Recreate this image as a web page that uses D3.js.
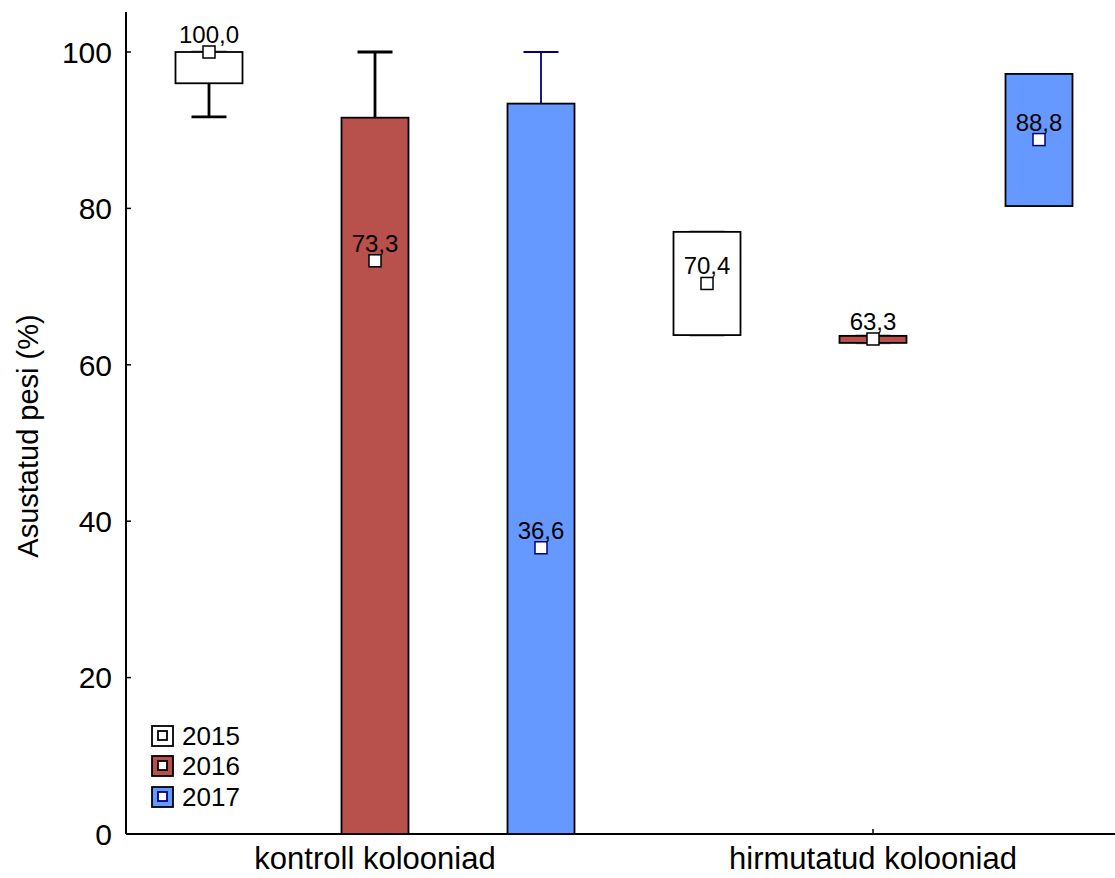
<!DOCTYPE html>
<html><head><meta charset="utf-8">
<script src="https://cdn.jsdelivr.net/npm/d3@7"></script>
<style>body{margin:0;background:#fff}text{font-family:Arial,"Liberation Sans",sans-serif}</style>
</head><body>
<svg id="c" width="1115" height="878"></svg>
<script>
const categories = ["kontroll kolooniad", "hirmutatud kolooniad"];
const years = ["2015", "2016", "2017"];
// per year, per category
const medians = [[100.0, 70.4], [73.3, 63.3], [36.6, 88.8]];
const q1 = [[96.0, 63.8], [0, 62.8], [0, 80.3]];
const q3 = [[100.0, 77.0], [91.6, 63.7], [93.4, 97.2]];
const whiskLow = [[91.7, 63.8], [0, 62.8], [0, 80.3]];
const whiskHigh = [[100.0, 77.0], [100.0, 63.7], [100.0, 97.2]];
const medianLabels = [["100,0", "70,4"], ["73,3", "63,3"], ["36,6", "88,8"]];
const yTicks = [0, 20, 40, 60, 80, 100];

const fills = ["#ffffff", "#b8504b", "#6699ff"];
const whiskColors = ["#000000", "#000000", "#000080"];
const markerStroke = ["#000000", "#000000", "#000080"];

const svg = d3.select("#c");
const x0 = 126, yBottom = 834;
const y = d3.scaleLinear().domain([0, 100]).range([834, 52]);
const x = d3.scaleBand().domain(categories).range([126, 1122]).paddingInner(0).paddingOuter(0);
const xs = d3.scaleBand().domain(years).range([-249, 249]);

// axes
svg.append("line").attr("x1", x0).attr("x2", x0).attr("y1", 12).attr("y2", yBottom).attr("stroke", "#000").attr("stroke-width", 2);
svg.append("line").attr("x1", x0).attr("x2", 1115).attr("y1", yBottom).attr("y2", yBottom).attr("stroke", "#000").attr("stroke-width", 2);
yTicks.forEach(t => {
  svg.append("line").attr("x1", x0).attr("x2", x0 + 5).attr("y1", y(t)).attr("y2", y(t)).attr("stroke", "#000").attr("stroke-width", 1.5);
  svg.append("text").attr("x", 112).attr("y", y(t)).attr("dy", "0.36em").attr("text-anchor", "end").attr("font-size", 30).text(t);
});
categories.forEach(c => {
  const cx = x(c) + x.bandwidth() / 2;
  svg.append("line").attr("x1", cx).attr("x2", cx).attr("y1", yBottom).attr("y2", yBottom - 5).attr("stroke", "#000").attr("stroke-width", 1.5);
  svg.append("text").attr("x", cx).attr("y", 869).attr("text-anchor", "middle").attr("font-size", 31).text(c);
});
svg.append("text").attr("transform", "translate(38,436) rotate(-90)").attr("text-anchor", "middle").attr("font-size", 29).text("Asustatud pesi (%)");

const bw = 67, cap = 35, ms = 12;
years.forEach((yr, i) => {
  categories.forEach((c, j) => {
    const cx = x(c) + x.bandwidth() / 2 + xs(yr) + xs.bandwidth() / 2;
    const g = svg.append("g");
    // whiskers
    const wc = whiskColors[i];
    if (whiskHigh[i][j] > q3[i][j]) {
      g.append("line").attr("x1", cx).attr("x2", cx).attr("y1", y(q3[i][j])).attr("y2", y(whiskHigh[i][j])).attr("stroke", wc).attr("stroke-width", i === 2 ? 1.8 : 2.8);
    }
    if (whiskLow[i][j] < q1[i][j]) {
      g.append("line").attr("x1", cx).attr("x2", cx).attr("y1", y(q1[i][j])).attr("y2", y(whiskLow[i][j])).attr("stroke", wc).attr("stroke-width", i === 2 ? 1.8 : 2.8);
    }
    [whiskHigh[i][j], whiskLow[i][j]].forEach(v => {
      if (v > 0) g.append("line").attr("x1", cx - cap / 2).attr("x2", cx + cap / 2).attr("y1", y(v)).attr("y2", y(v)).attr("stroke", wc).attr("stroke-width", i === 2 ? 1.8 : 2.8).attr("opacity", (v === q1[i][j] || v === q3[i][j]) ? 0.4 : 1);
    });
    // box
    g.append("rect").attr("x", cx - bw / 2).attr("width", bw)
      .attr("y", y(q3[i][j])).attr("height", Math.max(0, y(q1[i][j]) - y(q3[i][j])))
      .attr("fill", fills[i]).attr("stroke", "#000").attr("stroke-width", 1.8);
    // median marker
    g.append("rect").attr("x", cx - ms / 2).attr("y", y(medians[i][j]) - ms / 2).attr("width", ms).attr("height", ms)
      .attr("fill", "#fff").attr("stroke", markerStroke[i]).attr("stroke-width", 1.5);
    g.append("text").attr("x", cx).attr("y", y(medians[i][j]) - 9).attr("text-anchor", "middle").attr("font-size", 24).text(medianLabels[i][j]);
  });
});

// legend
const legY = [736, 766, 797];
years.forEach((yr, i) => {
  const ly = legY[i];
  svg.append("rect").attr("x", 152).attr("y", ly - 10).attr("width", 21).attr("height", 20).attr("fill", fills[i]).attr("stroke", "#000").attr("stroke-width", 1.8);
  svg.append("rect").attr("x", 158).attr("y", ly - 5).attr("width", 9).attr("height", 9).attr("fill", "#fff").attr("stroke", markerStroke[i]).attr("stroke-width", 1.8);
  svg.append("text").attr("x", 182).attr("y", ly).attr("dy", "0.36em").attr("font-size", 26).text(yr);
});
</script>
</body></html>
